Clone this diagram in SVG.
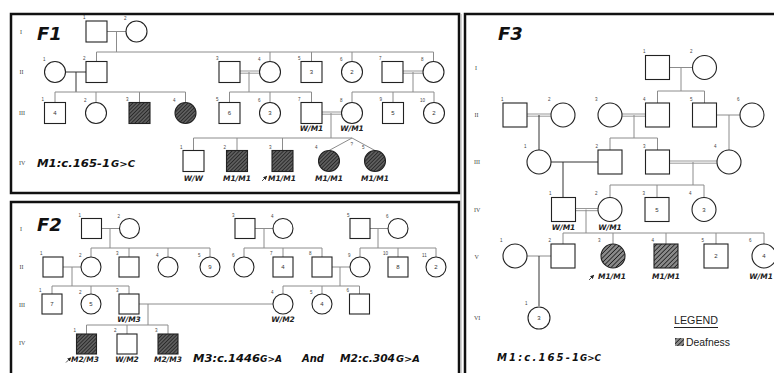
<svg xmlns="http://www.w3.org/2000/svg" width="774" height="373" viewBox="0 0 774 373">
<defs>
<pattern id="hat1" patternUnits="userSpaceOnUse" width="2.6" height="2.6" patternTransform="rotate(45)">
<rect width="2.6" height="2.6" fill="#5e5e5e"/><line x1="0" y1="0" x2="0" y2="2.6" stroke="#1a1a1a" stroke-width="1.4"/>
</pattern>
<pattern id="hat2" patternUnits="userSpaceOnUse" width="3.2" height="3.2" patternTransform="rotate(45)">
<rect width="3.2" height="3.2" fill="#8a8a8a"/><line x1="0" y1="0" x2="0" y2="3.2" stroke="#1e1e1e" stroke-width="1.6"/>
</pattern>
<marker id="pa" markerWidth="4" markerHeight="4" refX="3" refY="2" orient="auto" markerUnits="userSpaceOnUse">
<path d="M0,0 L4,2 L0,4 z" fill="#222"/>
</marker>
<style>
.n{fill:#fff;stroke:#222;stroke-width:1.1}
.h1{fill:url(#hat1);stroke:#222;stroke-width:1.1}
.h2{fill:url(#hat2);stroke:#222;stroke-width:1.1}
.c{stroke:#8c8c8c;stroke-width:1;fill:none}
.k{stroke:#333;stroke-width:1;fill:none}
.d{stroke:#8c8c8c;stroke-width:0.9;fill:none}
.idx{font:4.5px "Liberation Sans",sans-serif;fill:#444}
.num{font:6px "Liberation Sans",sans-serif;fill:#333;text-anchor:middle}
.gen{font:6px "Liberation Serif",serif;fill:#444}
.gt{font:italic bold 7.5px "DejaVu Sans",sans-serif;fill:#222;text-anchor:middle}
.ttl{font:italic bold 18px "DejaVu Sans",sans-serif;fill:#111}
.mut{font:italic bold 10px "DejaVu Sans",sans-serif;fill:#111}
.mut2{font:italic bold 8px "DejaVu Sans",sans-serif;fill:#111}
.frame{fill:none;stroke:#111;stroke-width:2.5}
.pr{stroke:#222;stroke-width:0.8;marker-end:url(#pa)}
</style>
</defs>
<rect width="774" height="373" fill="#fff"/>

<!-- frames -->
<g id="frames">
<rect class="frame" x="11" y="14" width="448" height="179"/>
<rect class="frame" x="11" y="202" width="448" height="176"/>
<line x1="461" y1="14" x2="461" y2="373" stroke="#aaa" stroke-width="1"/>
<rect class="frame" x="465" y="14" width="315" height="364"/>
</g>

<!-- titles & labels -->
<g id="labels">
<text class="ttl" x="37" y="40">F1</text>
<text class="ttl" x="37" y="231">F2</text>
<text class="ttl" x="498" y="40">F3</text>
<g class="gen">
<text x="20" y="34">I</text><text x="19.5" y="74">II</text><text x="19" y="115">III</text><text x="19" y="165">IV</text>
<text x="20" y="231">I</text><text x="19.5" y="269">II</text><text x="19" y="307">III</text><text x="19" y="345">IV</text>
<text x="475" y="70">I</text><text x="474.5" y="117">II</text><text x="474" y="164">III</text><text x="474" y="212">IV</text><text x="474.5" y="259">V</text><text x="474" y="320">VI</text>
</g>
<text class="mut" x="37" y="167" textLength="73" lengthAdjust="spacingAndGlyphs">M1:c.165-1</text>
<text class="mut2" x="111" y="167" textLength="24" lengthAdjust="spacingAndGlyphs">G&gt;C</text>
<text class="mut" x="193" y="362" textLength="67" lengthAdjust="spacingAndGlyphs">M3:c.1446</text>
<text class="mut2" x="260" y="362" textLength="22" lengthAdjust="spacingAndGlyphs">G&gt;A</text>
<text class="mut" x="302" y="362" textLength="22" lengthAdjust="spacingAndGlyphs">And</text>
<text class="mut" x="340" y="362" textLength="55" lengthAdjust="spacingAndGlyphs">M2:c.304</text>
<text class="mut2" x="396" y="362" textLength="24" lengthAdjust="spacingAndGlyphs">G&gt;A</text>
<text class="mut" x="497" y="361" textLength="82" lengthAdjust="spacing">M1:c.165-1</text>
<text class="mut2" x="580" y="361" textLength="21" lengthAdjust="spacingAndGlyphs">G&gt;C</text>
<text x="674" y="324" font-family="Liberation Sans, sans-serif" font-size="11" fill="#222" textLength="44" lengthAdjust="spacingAndGlyphs">LEGEND</text>
<line x1="674" y1="327.5" x2="718" y2="327.5" stroke="#222" stroke-width="1.2"/>
<rect x="675" y="338" width="9" height="8" fill="url(#hat2)"/>
<text x="686" y="346" font-family="Liberation Sans, sans-serif" font-size="10.5" fill="#222" textLength="44" lengthAdjust="spacingAndGlyphs">Deafness</text>
</g>

<!-- connectors -->
<g id="connectors">
<!-- F1 -->
<path class="c" d="M107,31.5H126 M116.5,31.5V52 M96.5,52H433.5 M96.5,52V61.5 M270,52V61.5 M311.5,52V61.5 M352,52V61.5 M433.5,52V61.5"/>
<path class="k" d="M65.5,72H86 M76,72V92"/>
<path class="c" d="M55,92H185.5 M55,92V102.5 M96,92V102.5 M139.5,92V102.5 M185.5,92V102.5"/>
<path class="d" d="M240,71H259.5 M240,73.2H259.5 M403,71H423 M403,73.2H423 M322,112H341.5 M322,114.2H341.5"/>
<path class="c" d="M249,72V92 M229.5,92H311.5 M229.5,92V102.5 M270,92V102.5 M311.5,92V102.5"/>
<path class="c" d="M413,72V92 M352,92H434 M352,92V102.5 M393,92V102.5 M434,92V102.5"/>
<path class="c" d="M331,113V138 M193.5,138H352 M193.5,138V150.5 M237,138V150.5 M282.5,138V150.5 M352,138L329,150.5 M352,138L375,150.5"/>
<!-- F2 -->
<path class="c" d="M101.5,228.5H119.5 M110,228.5V248 M91,248H210 M91,248V257 M129,248V257 M168,248V257 M210,248V257"/>
<path class="c" d="M255,228.5H273 M264,228.5V248 M244,248H322 M244,248V257 M283,248V257 M322,248V257"/>
<path class="c" d="M370,228.5H388 M378,228.5V248 M360,248H436 M360,248V257 M398,248V257 M436,248V257"/>
<path class="c" d="M63,267H81 M72,267V286 M52,286H129 M52,286V294 M91,286V294 M129,286V294"/>
<path class="c" d="M332,267H350 M340,267V286 M283,286H359.5 M283,286V294 M322,286V294 M359.5,286V294"/>
<path class="c" d="M139,304H273 M148,304V325 M86.5,325H168 M86.5,325V334 M127,325V334 M168,325V334"/>
<!-- F3 -->
<path class="c" d="M669.5,67.5H692.5 M681,67.5V91 M657.5,91H704.5 M657.5,91V103 M704.5,91V103"/>
<path class="d" d="M527,114H551 M527,116.2H551 M622,114H645.5 M622,116.2H645.5 M669.5,161H717 M669.5,163.2H717 M575.5,208.5H598 M575.5,210.7H598"/>
<path class="k" d="M539,115V150"/>
<path class="c" d="M634,115V138 M610,138H657.5 M610,138V150 M657.5,138V150"/>
<path class="c" d="M716.5,115H740 M729,115V150"/>
<path class="k" d="M551,162H598 M563,162V197.5"/>
<path class="c" d="M693,162V185 M610,185H704 M610,185V197.5 M657,185V197.5 M704,185V197.5"/>
<path class="c" d="M586,209.5V233 M563,233H764 M563,233V244 M613,233V244 M666,233V244 M716,233V244 M764,233V244"/>
<path class="c" d="M527,256H551"/>
<path class="k" d="M539,256V306"/>
</g>

<!-- F1 nodes -->
<g id="F1-I-1"><rect class="n" x="86" y="21" width="21" height="21"/><text class="idx" x="83" y="19">1</text></g>
<g id="F1-I-2"><circle class="n" cx="136.5" cy="31.5" r="10.5"/><text class="idx" x="124" y="20">2</text></g>
<g id="F1-II-1"><circle class="n" cx="55" cy="72" r="10.5"/><text class="idx" x="43" y="61">1</text></g>
<g id="F1-II-2"><rect class="n" x="86" y="61.5" width="21" height="21"/><text class="idx" x="83" y="59.5">2</text></g>
<g id="F1-II-3"><rect class="n" x="219" y="61.5" width="21" height="21"/><text class="idx" x="216" y="59.5">3</text></g>
<g id="F1-II-4"><circle class="n" cx="270" cy="72" r="10.5"/><text class="idx" x="258" y="61">4</text></g>
<g id="F1-II-5"><rect class="n" x="301" y="61.5" width="21" height="21"/><text class="num" x="311.5" y="74">3</text><text class="idx" x="298" y="59.5">5</text></g>
<g id="F1-II-6"><circle class="n" cx="352" cy="72" r="10.5"/><text class="num" x="352" y="74">2</text><text class="idx" x="340" y="61">6</text></g>
<g id="F1-II-7"><rect class="n" x="382" y="61.5" width="21" height="21"/><text class="idx" x="379" y="59.5">7</text></g>
<g id="F1-II-8"><circle class="n" cx="433.5" cy="72" r="10.5"/><text class="idx" x="421" y="61">8</text></g>
<g id="F1-III-1"><rect class="n" x="44.5" y="102.5" width="21" height="21"/><text class="num" x="55" y="115">4</text><text class="idx" x="41.5" y="100.5">1</text></g>
<g id="F1-III-2"><circle class="n" cx="96" cy="113" r="10.5"/><text class="idx" x="84" y="102">2</text></g>
<g id="F1-III-3"><rect class="h1" x="129" y="102.5" width="21" height="21"/><text class="idx" x="126" y="100.5">3</text></g>
<g id="F1-III-4"><circle class="h1" cx="185.5" cy="113" r="10.5"/><text class="idx" x="173" y="102">4</text></g>
<g id="F1-III-5"><rect class="n" x="219" y="102.5" width="21" height="21"/><text class="num" x="229.5" y="115">6</text><text class="idx" x="216" y="100.5">5</text></g>
<g id="F1-III-6"><circle class="n" cx="270" cy="113" r="10.5"/><text class="num" x="270" y="115">3</text><text class="idx" x="258" y="102">6</text></g>
<g id="F1-III-7"><rect class="n" x="301" y="102.5" width="21" height="21"/><text class="idx" x="298" y="100.5">7</text><text class="gt" x="311.5" y="131">W/M1</text></g>
<g id="F1-III-8"><circle class="n" cx="352" cy="113" r="10.5"/><text class="idx" x="340" y="102">8</text><text class="gt" x="352" y="131">W/M1</text></g>
<g id="F1-III-9"><rect class="n" x="382.5" y="102.5" width="21" height="21"/><text class="num" x="393" y="115">5</text><text class="idx" x="379.5" y="100.5">9</text></g>
<g id="F1-III-10"><circle class="n" cx="434" cy="113" r="10.5"/><text class="num" x="434" y="115">2</text><text class="idx" x="420" y="102">10</text></g>
<g id="F1-IV-1"><rect class="n" x="183" y="150.5" width="21" height="21"/><text class="idx" x="180" y="148.5">1</text><text class="gt" x="193.5" y="181">W/W</text></g>
<g id="F1-IV-2"><rect class="h1" x="226.5" y="150.5" width="21" height="21"/><text class="idx" x="223.5" y="148.5">2</text><text class="gt" x="237" y="181">M1/M1</text></g>
<g id="F1-IV-3"><rect class="h1" x="272" y="150.5" width="21" height="21"/><text class="idx" x="269" y="148.5">3</text><line class="pr" x1="262" y1="181" x2="266.5" y2="176.5"/><text class="gt" x="282" y="181">M1/M1</text></g>
<g id="F1-IV-4"><circle class="h1" cx="329" cy="161" r="10.5"/><text class="idx" x="315" y="149">4</text><text class="gt" x="329" y="181">M1/M1</text></g>
<g id="F1-IV-5"><circle class="h1" cx="375" cy="161" r="10.5"/><text class="idx" x="362" y="149">5</text><text class="gt" x="375" y="181">M1/M1</text></g>
<text class="idx" x="350.5" y="146">?</text>

<!-- F2 nodes -->
<g id="F2-I-1"><rect class="n" x="81.5" y="218.5" width="20" height="20"/><text class="idx" x="78.5" y="216.5">1</text></g>
<g id="F2-I-2"><circle class="n" cx="129.5" cy="228.5" r="10"/><text class="idx" x="117.5" y="218">2</text></g>
<g id="F2-I-3"><rect class="n" x="235" y="218.5" width="20" height="20"/><text class="idx" x="232" y="216.5">3</text></g>
<g id="F2-I-4"><circle class="n" cx="283" cy="228.5" r="10"/><text class="idx" x="271" y="218">4</text></g>
<g id="F2-I-5"><rect class="n" x="350" y="218.5" width="20" height="20"/><text class="idx" x="347" y="216.5">5</text></g>
<g id="F2-I-6"><circle class="n" cx="398" cy="228.5" r="10"/><text class="idx" x="386" y="218">6</text></g>
<g id="F2-II-1"><rect class="n" x="43" y="257" width="20" height="20"/><text class="idx" x="40" y="255">1</text></g>
<g id="F2-II-2"><circle class="n" cx="91" cy="267" r="10"/><text class="idx" x="79" y="256.5">2</text></g>
<g id="F2-II-3"><rect class="n" x="119" y="257" width="20" height="20"/><text class="idx" x="116" y="255">3</text></g>
<g id="F2-II-4"><circle class="n" cx="168" cy="267" r="10"/><text class="idx" x="156" y="256.5">4</text></g>
<g id="F2-II-5"><circle class="n" cx="210" cy="267" r="10"/><text class="num" x="210" y="269">9</text><text class="idx" x="198" y="256.5">5</text></g>
<g id="F2-II-6"><circle class="n" cx="244" cy="267" r="10"/><text class="idx" x="232" y="256.5">6</text></g>
<g id="F2-II-7"><rect class="n" x="273" y="257" width="20" height="20"/><text class="num" x="283" y="269">4</text><text class="idx" x="270" y="255">7</text></g>
<g id="F2-II-8"><rect class="n" x="312" y="257" width="20" height="20"/><text class="idx" x="309" y="255">8</text></g>
<g id="F2-II-9"><circle class="n" cx="360" cy="267" r="10"/><text class="idx" x="348" y="256.5">9</text></g>
<g id="F2-II-10"><rect class="n" x="388" y="257" width="20" height="20"/><text class="num" x="398" y="269">8</text><text class="idx" x="383" y="255">10</text></g>
<g id="F2-II-11"><circle class="n" cx="436" cy="267" r="10"/><text class="num" x="436" y="269">2</text><text class="idx" x="422" y="256.5">11</text></g>
<g id="F2-III-1"><rect class="n" x="42" y="294" width="20" height="20"/><text class="num" x="52" y="306">7</text><text class="idx" x="39" y="292">1</text></g>
<g id="F2-III-2"><circle class="n" cx="91" cy="304" r="10"/><text class="num" x="91" y="306">5</text><text class="idx" x="79" y="293.5">2</text></g>
<g id="F2-III-3"><rect class="n" x="119" y="294" width="20" height="20"/><text class="idx" x="116" y="292">3</text><text class="gt" x="129" y="322">W/M3</text></g>
<g id="F2-III-4"><circle class="n" cx="283" cy="304" r="10"/><text class="idx" x="271" y="293.5">4</text><text class="gt" x="283" y="322">W/M2</text></g>
<g id="F2-III-5"><circle class="n" cx="322" cy="304" r="10"/><text class="num" x="322" y="306">4</text><text class="idx" x="310" y="293.5">5</text></g>
<g id="F2-III-6"><rect class="n" x="349.5" y="294" width="20" height="20"/><text class="idx" x="346.5" y="292">6</text></g>
<g id="F2-IV-1"><rect class="h1" x="76.5" y="334" width="20" height="20"/><text class="idx" x="73.5" y="332">1</text><line class="pr" x1="66" y1="362.5" x2="70.5" y2="358"/><text class="gt" x="85" y="362">M2/M3</text></g>
<g id="F2-IV-2"><rect class="n" x="117" y="334" width="20" height="20"/><text class="idx" x="114" y="332">2</text><text class="gt" x="127" y="362">W/M2</text></g>
<g id="F2-IV-3"><rect class="h1" x="158" y="334" width="20" height="20"/><text class="idx" x="155" y="332">3</text><text class="gt" x="168" y="362">M2/M3</text></g>

<!-- F3 nodes -->
<g id="F3-I-1"><rect class="n" x="645.5" y="55.5" width="24" height="24"/><text class="idx" x="643" y="53">1</text></g>
<g id="F3-I-2"><circle class="n" cx="704.5" cy="67.5" r="12"/><text class="idx" x="690" y="53">2</text></g>
<g id="F3-II-1"><rect class="n" x="503" y="103" width="24" height="24"/><text class="idx" x="501" y="100.5">1</text></g>
<g id="F3-II-2"><circle class="n" cx="563" cy="115" r="12"/><text class="idx" x="548" y="100.5">2</text></g>
<g id="F3-II-3"><circle class="n" cx="610" cy="115" r="12"/><text class="idx" x="595" y="100.5">3</text></g>
<g id="F3-II-4"><rect class="n" x="645.5" y="103" width="24" height="24"/><text class="idx" x="643" y="100.5">4</text></g>
<g id="F3-II-5"><rect class="n" x="692.5" y="103" width="24" height="24"/><text class="idx" x="690" y="100.5">5</text></g>
<g id="F3-II-6"><circle class="n" cx="752" cy="115" r="12"/><text class="idx" x="737" y="100.5">6</text></g>
<g id="F3-III-1"><circle class="n" cx="539" cy="162" r="12"/><text class="idx" x="524" y="147.5">1</text></g>
<g id="F3-III-2"><rect class="n" x="598" y="150" width="24" height="24"/><text class="idx" x="595.5" y="147.5">2</text></g>
<g id="F3-III-3"><rect class="n" x="645.5" y="150" width="24" height="24"/><text class="idx" x="643" y="147.5">3</text></g>
<g id="F3-III-4"><circle class="n" cx="729" cy="162" r="12"/><text class="idx" x="714" y="147.5">4</text></g>
<g id="F3-IV-1"><rect class="n" x="551.5" y="197.5" width="24" height="24"/><text class="idx" x="549" y="195">1</text><text class="gt" x="563.5" y="229.5">W/M1</text></g>
<g id="F3-IV-2"><circle class="n" cx="610" cy="209.5" r="12"/><text class="idx" x="595" y="195">2</text><text class="gt" x="610" y="229.5">W/M1</text></g>
<g id="F3-IV-3"><rect class="n" x="645" y="197.5" width="24" height="24"/><text class="num" x="657" y="212">5</text><text class="idx" x="642.5" y="195">3</text></g>
<g id="F3-IV-4"><circle class="n" cx="704" cy="209.5" r="12"/><text class="num" x="704" y="212">3</text><text class="idx" x="689" y="195">4</text></g>
<g id="F3-V-1"><circle class="n" cx="515" cy="256" r="12"/><text class="idx" x="500" y="242">1</text></g>
<g id="F3-V-2"><rect class="n" x="551" y="244" width="24" height="24"/><text class="idx" x="548.5" y="242">2</text></g>
<g id="F3-V-3"><circle class="h2" cx="613" cy="256" r="12"/><text class="idx" x="598" y="242">3</text><line class="pr" x1="589" y1="280" x2="593.5" y2="275.5"/><text class="gt" x="612" y="279">M1/M1</text></g>
<g id="F3-V-4"><rect class="h2" x="654" y="244" width="24" height="24"/><text class="idx" x="651.5" y="242">4</text><text class="gt" x="666" y="279">M1/M1</text></g>
<g id="F3-V-5"><rect class="n" x="704" y="244" width="24" height="24"/><text class="num" x="716" y="258">2</text><text class="idx" x="701.5" y="242">5</text></g>
<g id="F3-V-6"><circle class="n" cx="764" cy="256" r="12"/><text class="num" x="764" y="258">4</text><text class="idx" x="749" y="242">6</text><text class="gt" x="773" y="279" style="text-anchor:end">W/M1</text></g>
<g id="F3-VI-1"><circle class="n" cx="539" cy="318" r="11"/><text class="num" x="539" y="320">3</text><text class="idx" x="525" y="305">1</text></g>
</svg>
